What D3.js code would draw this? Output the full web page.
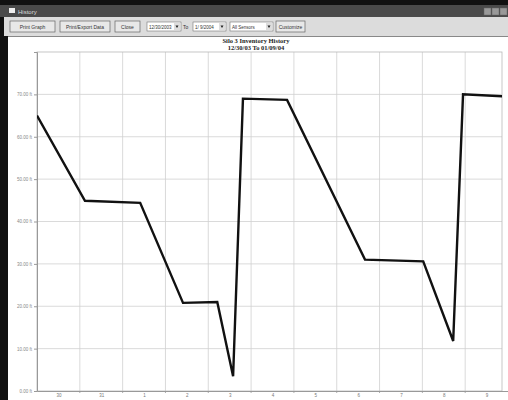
<!DOCTYPE html>
<html>
<head>
<meta charset="utf-8">
<script src="https://cdn.jsdelivr.net/npm/d3@7"></script>
<style>
  body { margin: 0; background: #000; }
  svg { display: block; }
</style>
</head>
<body>
<svg width="508" height="400"></svg>
<script>
var dayLabels = ["30", "31", "1", "2", "3", "4", "5", "6", "7", "8", "9"];
var timeDays = [0, 1.12, 2.41, 3.41, 4.21, 4.58, 4.81, 5.84, 7.66, 9.02, 9.72, 9.95, 11.0];
var levels = [65.0, 44.9, 44.4, 20.8, 21.0, 3.5, 69.0, 68.7, 31.0, 30.6, 11.8, 70.0, 69.5];
var yTicks = [0, 10, 20, 30, 40, 50, 60, 70];
var buttons = ["Print Graph", "Print/Export Data", "Close"];

var svg = d3.select("svg");

// window frame
svg.append("rect").attr("width", 508).attr("height", 400).attr("fill", "#111");
svg.append("rect").attr("x", 0).attr("y", 5).attr("width", 508).attr("height", 12).attr("fill", "#4a4a4a");
svg.append("rect").attr("x", 9).attr("y", 8).attr("width", 6).attr("height", 5).attr("fill", "#eee");
svg.append("text").attr("x", 18).attr("y", 14).attr("font-family", "Liberation Sans")
    .attr("font-size", 6).attr("fill", "#ddd").text("History");
[487, 495, 503].forEach(function(x) {
    svg.append("rect").attr("x", x - 3).attr("y", 8).attr("width", 7).attr("height", 7)
        .attr("fill", "#999").attr("stroke", "#666").attr("stroke-width", 0.5);
});

// toolbar
svg.append("rect").attr("x", 0).attr("y", 17).attr("width", 508).attr("height", 19).attr("fill", "#dcdcdc");
svg.append("rect").attr("x", 0).attr("y", 17).attr("width", 4).attr("height", 383).attr("fill", "#111");

var btnX = [10, 60, 115];
var btnW = [45, 50, 25];
buttons.forEach(function(b, i) {
    svg.append("rect").attr("x", btnX[i]).attr("y", 21).attr("width", btnW[i]).attr("height", 11)
        .attr("fill", "#e8e8e8").attr("stroke", "#666").attr("stroke-width", 0.7);
    svg.append("text").attr("x", btnX[i] + btnW[i] / 2).attr("y", 28.5).attr("text-anchor", "middle")
        .attr("font-family", "Liberation Sans").attr("font-size", 5).attr("fill", "#333").text(b);
});

function combo(x, w, label) {
    svg.append("rect").attr("x", x).attr("y", 22).attr("width", w).attr("height", 9)
        .attr("fill", "#fff").attr("stroke", "#777").attr("stroke-width", 0.6);
    svg.append("rect").attr("x", x + w - 7).attr("y", 23).attr("width", 6).attr("height", 7).attr("fill", "#ddd");
    svg.append("path").attr("d", "M" + (x + w - 5.5) + ",25.5 l3,0 l-1.5,2.5 z").attr("fill", "#222");
    svg.append("text").attr("x", x + 2).attr("y", 28.5).attr("font-family", "Liberation Sans")
        .attr("font-size", 4.5).attr("fill", "#333").text(label);
}
combo(147, 34, "12/30/2003");
svg.append("text").attr("x", 183).attr("y", 28.5).attr("font-family", "Liberation Sans")
    .attr("font-size", 5).attr("fill", "#333").text("To");
combo(193, 33, "1/ 9/2004");
combo(230, 43, "All Sensors");
svg.append("rect").attr("x", 276).attr("y", 21).attr("width", 29).attr("height", 11)
    .attr("fill", "#e8e8e8").attr("stroke", "#666").attr("stroke-width", 0.7);
svg.append("text").attr("x", 290.5).attr("y", 28.5).attr("text-anchor", "middle")
    .attr("font-family", "Liberation Sans").attr("font-size", 5).attr("fill", "#333").text("Customize");

// chart area
svg.append("rect").attr("x", 8).attr("y", 36).attr("width", 500).attr("height", 364).attr("fill", "#fff");
svg.append("line").attr("x1", 8).attr("x2", 508).attr("y1", 36.5).attr("y2", 36.5).attr("stroke", "#888");

svg.append("text").attr("x", 256).attr("y", 43).attr("text-anchor", "middle")
    .attr("font-family", "Liberation Serif").attr("font-weight", "bold").attr("font-size", 6.5)
    .attr("fill", "#222").text("Silo 3 Inventory History");
svg.append("text").attr("x", 256).attr("y", 50).attr("text-anchor", "middle")
    .attr("font-family", "Liberation Serif").attr("font-weight", "bold").attr("font-size", 6.5)
    .attr("fill", "#222").text("12/30/03 To 01/09/04");

var plotLeft = 37, plotTop = 52, plotBottom = 391, plotRight = 502;
var x = d3.scaleLinear().domain([0, 11]).range([plotLeft, 508]);
var y = d3.scaleLinear().domain([0, 80]).range([plotBottom, plotTop]);

svg.append("clipPath").attr("id", "plot").append("rect")
    .attr("x", plotLeft).attr("y", plotTop - 3).attr("width", plotRight - plotLeft)
    .attr("height", plotBottom - plotTop + 6);

var grid = svg.append("g").attr("clip-path", "url(#plot)");
grid.selectAll(".vg").data(d3.range(1, 11)).enter().append("line")
    .attr("x1", function(d) { return x(d); }).attr("x2", function(d) { return x(d); })
    .attr("y1", plotTop).attr("y2", plotBottom).attr("stroke", "#d0d0d0").attr("stroke-width", 0.8);
grid.selectAll(".hg").data(yTicks.slice(1)).enter().append("line")
    .attr("x1", plotLeft).attr("x2", plotRight)
    .attr("y1", function(d) { return y(d); }).attr("y2", function(d) { return y(d); })
    .attr("stroke", "#d0d0d0").attr("stroke-width", 0.8);

svg.append("rect").attr("x", plotLeft).attr("y", plotTop)
    .attr("width", plotRight - plotLeft).attr("height", plotBottom - plotTop)
    .attr("fill", "none").attr("stroke", "#b8b8b8").attr("stroke-width", 0.8);

// y axis
var yAxis = svg.append("g").attr("transform", "translate(" + plotLeft + ",0)")
    .call(d3.axisLeft(y).tickValues(yTicks).tickSize(3).tickPadding(2)
        .tickFormat(function(d) { return d3.format(".2f")(d) + " ft"; }));
yAxis.select(".domain").attr("stroke", "#999");
yAxis.selectAll("line").attr("stroke", "#999");
yAxis.selectAll("text").attr("font-family", "Liberation Sans").attr("font-size", 4.5).attr("fill", "#888");

// x axis
var xAxis = svg.append("g").attr("transform", "translate(0," + plotBottom + ")")
    .call(d3.axisBottom(x).tickValues(d3.range(0.5, 11, 1)).tickSize(0).tickPadding(3)
        .tickFormat(function(d, i) { return dayLabels[i]; }));
xAxis.select(".domain").attr("stroke", "#999");
xAxis.selectAll("text").attr("font-family", "Liberation Sans").attr("font-size", 4.5).attr("fill", "#777");
svg.append("g").selectAll("line").data(d3.range(1, 11)).enter().append("line")
    .attr("x1", function(d) { return x(d); }).attr("x2", function(d) { return x(d); })
    .attr("y1", plotBottom).attr("y2", plotBottom + 2).attr("stroke", "#999").attr("stroke-width", 0.8);

// inventory line
var pts = timeDays.map(function(t, i) { return [t, levels[i]]; });
var line = d3.line().x(function(d) { return x(d[0]); }).y(function(d) { return y(d[1]); });
svg.append("path").attr("clip-path", "url(#plot)").datum(pts).attr("d", line)
    .attr("fill", "none").attr("stroke", "#111").attr("stroke-width", 2.4)
    .attr("stroke-linejoin", "miter");
</script>
</body>
</html>
